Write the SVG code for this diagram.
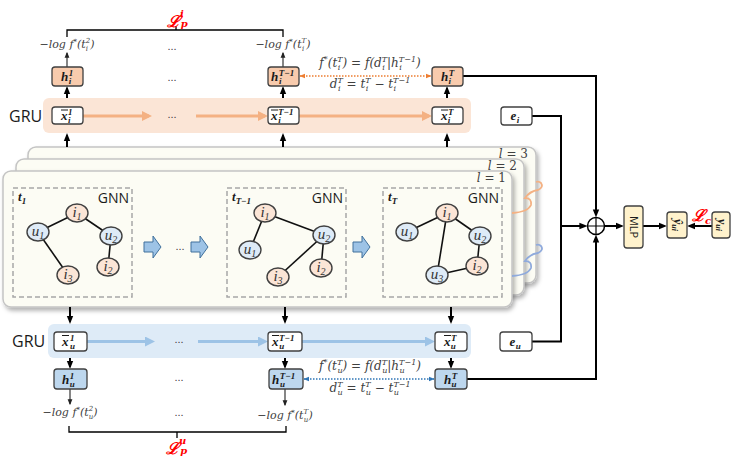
<svg xmlns="http://www.w3.org/2000/svg" width="731" height="467" viewBox="0 0 731 467">
<style>
.m{font-family:"DejaVu Serif","Liberation Serif",serif;font-style:italic;fill:#404040}
.bm{font-family:"Liberation Serif","DejaVu Serif",serif;font-style:italic;font-weight:bold;fill:#1a1a1a}
.sans{font-family:"Open Sans","Liberation Sans",sans-serif;fill:#1a1a1a}
.f11{font-size:11px}.f12{font-size:12px}.f13{font-size:13px}
.s7{font-size:7px}.s8{font-size:8px}.s9{font-size:9px}
.red{font-family:"DejaVu Serif",serif;font-style:italic;font-weight:bold;fill:#ff0000}
.box{fill:#fff;stroke:#404040;stroke-width:1.3}
.ho{fill:#f8cbad;stroke:#404040;stroke-width:1.3}
.hb{fill:#bdd7ee;stroke:#404040;stroke-width:1.3}
.yl{fill:#fff2cc;stroke:#404040;stroke-width:1.3}
.panel{fill:#fcfcf4;stroke:#c4c4c4;stroke-width:1.5}
.dash{fill:none;stroke:#a6a6a6;stroke-width:1.5;stroke-dasharray:5 3}
.ni{fill:#fbe5d6;stroke:#404040;stroke-width:1.4}
.nu{fill:#deebf7;stroke:#404040;stroke-width:1.4}
.nl{font-family:"Liberation Serif","DejaVu Serif",serif;font-style:italic;font-size:15px;fill:#333}
.edge{stroke:#111;stroke-width:1.6}
.blk{fill:#9dc3e6;stroke:#41719c;stroke-width:1}
.k2{fill:none;stroke:#000;stroke-width:2}
.k1{fill:none;stroke:#222;stroke-width:1.1}
.oa{stroke:#f4b183;stroke-width:3}
.ba{stroke:#9dc3e6;stroke-width:3}
.dots{font-family:"Liberation Sans",sans-serif;font-size:11px;fill:#404040}
.ov{stroke:#1a1a1a;stroke-width:1}
</style>
<defs>
<marker id="ak" viewBox="0 0 10 10" refX="7" refY="5" markerWidth="8" markerHeight="8" markerUnits="userSpaceOnUse" orient="auto"><path d="M0,1 L10,5 L0,9 z" fill="#000"/></marker>
<marker id="at" viewBox="0 0 10 10" refX="8" refY="5" markerWidth="6" markerHeight="6" markerUnits="userSpaceOnUse" orient="auto"><path d="M0,1 L10,5 L0,9 z" fill="#222"/></marker>
<marker id="ao" viewBox="0 0 10 10" refX="7" refY="5" markerWidth="10" markerHeight="10" markerUnits="userSpaceOnUse" orient="auto"><path d="M0,0 L10,5 L0,10 z" fill="#f4b183"/></marker>
<marker id="ab" viewBox="0 0 10 10" refX="7" refY="5" markerWidth="10" markerHeight="10" markerUnits="userSpaceOnUse" orient="auto"><path d="M0,0 L10,5 L0,10 z" fill="#9dc3e6"/></marker>
<marker id="do" viewBox="0 0 10 10" refX="9" refY="5" markerWidth="6" markerHeight="6" markerUnits="userSpaceOnUse" orient="auto-start-reverse"><path d="M0,1 L10,5 L0,9 z" fill="#ed7d31"/></marker>
<marker id="db" viewBox="0 0 10 10" refX="9" refY="5" markerWidth="6" markerHeight="6" markerUnits="userSpaceOnUse" orient="auto-start-reverse"><path d="M0,1 L10,5 L0,9 z" fill="#2e75b6"/></marker>
<filter id="sh" x="-5%" y="-10%" width="112%" height="125%"><feDropShadow dx="2" dy="3" stdDeviation="2" flood-color="#000" flood-opacity="0.3"/></filter>
</defs>

<!-- GRU bands -->
<rect x="43" y="98" width="428" height="35" rx="6" fill="#fbe5d6"/>
<rect x="48" y="324" width="423" height="34" rx="6" fill="#deebf7"/>
<text class="sans" x="9" y="122" font-size="16">GRU</text>
<text class="sans" x="12" y="347" font-size="16">GRU</text>

<!-- GNN panels -->
<g id="panels">
<rect class="panel" x="28" y="147" width="508" height="136" rx="8" filter="url(#sh)"/>
<rect class="panel" x="16" y="159" width="508" height="136" rx="8" filter="url(#sh)"/>
<rect class="panel" x="3" y="171" width="509" height="136" rx="8" filter="url(#sh)"/>
<text class="m f12" x="528" y="158" text-anchor="end">l<tspan font-style="normal"> = 3</tspan></text>
<text class="m f12" x="517" y="170" text-anchor="end">l<tspan font-style="normal"> = 2</tspan></text>
<text class="m f12" x="506" y="182" text-anchor="end">l<tspan font-style="normal"> = 1</tspan></text>
<path d="M512,213 Q528,212 531,205 Q532,198 525,198 Q530,191 538,190 Q544,187 541,183 Q539,181 536,182" fill="none" stroke="#f4b183" stroke-width="1.8"/>
<path d="M512,276 Q528,275 531,268 Q532,261 525,261 Q530,254 538,253 Q544,250 541,246 Q539,244 536,245" fill="none" stroke="#8faadc" stroke-width="1.8"/>
</g>

<!-- snapshot graphs -->
<g id="snap-t1">
<rect class="dash" x="13" y="188" width="119" height="109"/>
<text class="bm f13" x="18" y="201">t<tspan class="s9" dy="3">1</tspan></text>
<text class="sans" x="129" y="203" font-size="14" text-anchor="end">GNN</text>
<line class="edge" x1="38" y1="232" x2="77" y2="213"/>
<line class="edge" x1="77" y1="213" x2="111" y2="236"/>
<line class="edge" x1="38" y1="232" x2="68" y2="275"/>
<line class="edge" x1="111" y1="236" x2="108" y2="267"/>
<g id="g1-i1"><ellipse class="ni" cx="77" cy="213" rx="11" ry="9"/><text class="nl" x="77" y="217" text-anchor="middle">i<tspan font-size="10" dy="3">1</tspan></text></g>
<g id="g1-u1"><ellipse class="nu" cx="38" cy="232" rx="11" ry="9"/><text class="nl" x="38" y="236" text-anchor="middle">u<tspan font-size="10" dy="3">1</tspan></text></g>
<g id="g1-u2"><ellipse class="nu" cx="111" cy="236" rx="11" ry="9"/><text class="nl" x="111" y="240" text-anchor="middle">u<tspan font-size="10" dy="3">2</tspan></text></g>
<g id="g1-i2"><ellipse class="ni" cx="108" cy="267" rx="11" ry="9"/><text class="nl" x="108" y="271" text-anchor="middle">i<tspan font-size="10" dy="3">2</tspan></text></g>
<g id="g1-i3"><ellipse class="ni" cx="68" cy="275" rx="11" ry="9"/><text class="nl" x="68" y="279" text-anchor="middle">i<tspan font-size="10" dy="3">3</tspan></text></g>
</g>

<g id="snap-tT1">
<rect class="dash" x="227" y="188" width="119" height="109"/>
<text class="bm f13" x="232" y="201">t<tspan class="s9" dy="3">T−1</tspan></text>
<text class="sans" x="343" y="203" font-size="14" text-anchor="end">GNN</text>
<line class="edge" x1="265" y1="213" x2="250" y2="250"/>
<line class="edge" x1="265" y1="213" x2="324" y2="235"/>
<line class="edge" x1="324" y1="235" x2="278" y2="277"/>
<line class="edge" x1="324" y1="235" x2="321" y2="268"/>
<g id="g2-i1"><ellipse class="ni" cx="265" cy="213" rx="11" ry="9"/><text class="nl" x="265" y="217" text-anchor="middle">i<tspan font-size="10" dy="3">1</tspan></text></g>
<g id="g2-u1"><ellipse class="nu" cx="250" cy="250" rx="11" ry="9"/><text class="nl" x="250" y="254" text-anchor="middle">u<tspan font-size="10" dy="3">1</tspan></text></g>
<g id="g2-u2"><ellipse class="nu" cx="324" cy="235" rx="11" ry="9"/><text class="nl" x="324" y="239" text-anchor="middle">u<tspan font-size="10" dy="3">2</tspan></text></g>
<g id="g2-i3"><ellipse class="ni" cx="278" cy="277" rx="11" ry="9"/><text class="nl" x="278" y="281" text-anchor="middle">i<tspan font-size="10" dy="3">3</tspan></text></g>
<g id="g2-i2"><ellipse class="ni" cx="321" cy="268" rx="11" ry="9"/><text class="nl" x="321" y="272" text-anchor="middle">i<tspan font-size="10" dy="3">2</tspan></text></g>
</g>

<g id="snap-tT">
<rect class="dash" x="383" y="188" width="119" height="109"/>
<text class="bm f13" x="388" y="201">t<tspan class="s9" dy="3">T</tspan></text>
<text class="sans" x="499" y="203" font-size="14" text-anchor="end">GNN</text>
<line class="edge" x1="407" y1="232" x2="447" y2="213"/>
<line class="edge" x1="447" y1="213" x2="480" y2="236"/>
<line class="edge" x1="447" y1="213" x2="437" y2="275"/>
<line class="edge" x1="480" y1="236" x2="477" y2="266"/>
<line class="edge" x1="437" y1="275" x2="477" y2="266"/>
<g id="g3-i1"><ellipse class="ni" cx="447" cy="213" rx="11" ry="9"/><text class="nl" x="447" y="217" text-anchor="middle">i<tspan font-size="10" dy="3">1</tspan></text></g>
<g id="g3-u1"><ellipse class="nu" cx="407" cy="232" rx="11" ry="9"/><text class="nl" x="407" y="236" text-anchor="middle">u<tspan font-size="10" dy="3">1</tspan></text></g>
<g id="g3-u2"><ellipse class="nu" cx="480" cy="236" rx="11" ry="9"/><text class="nl" x="480" y="240" text-anchor="middle">u<tspan font-size="10" dy="3">2</tspan></text></g>
<g id="g3-i2"><ellipse class="ni" cx="477" cy="266" rx="11" ry="9"/><text class="nl" x="477" y="270" text-anchor="middle">i<tspan font-size="10" dy="3">2</tspan></text></g>
<g id="g3-u3"><ellipse class="nu" cx="437" cy="275" rx="11" ry="9"/><text class="nl" x="437" y="279" text-anchor="middle">u<tspan font-size="10" dy="3">3</tspan></text></g>
</g>

<!-- block arrows between snapshots -->
<g id="block-arrows">
<path class="blk" d="M144,242 H153 V236 L161,247 L153,258 V252 H144 Z"/>
<path class="blk" d="M191,242 H200 V236 L208,247 L200,258 V252 H191 Z"/>
<path class="blk" d="M353,242 H362 V236 L370,247 L362,258 V252 H353 Z"/>
<text class="dots" x="180" y="250" text-anchor="middle">...</text>
</g>

<!-- connectors -->
<g id="connectors">
<line class="oa" x1="83" y1="116" x2="149" y2="116" marker-end="url(#ao)"/>
<line class="oa" x1="196" y1="116" x2="265" y2="116" marker-end="url(#ao)"/>
<line class="oa" x1="299" y1="116" x2="429" y2="116" marker-end="url(#ao)"/>
<line class="ba" x1="87" y1="341.5" x2="152" y2="341.5" marker-end="url(#ab)"/>
<line class="ba" x1="198" y1="341.5" x2="265" y2="341.5" marker-end="url(#ab)"/>
<line class="ba" x1="302" y1="341.5" x2="432" y2="341.5" marker-end="url(#ab)"/>

<line class="k2" x1="67" y1="147" x2="67" y2="135.5" marker-end="url(#ak)"/>
<line class="k2" x1="283" y1="147" x2="283" y2="135.5" marker-end="url(#ak)"/>
<line class="k2" x1="447" y1="147" x2="447" y2="135.5" marker-end="url(#ak)"/>
<line class="k2" x1="67" y1="98" x2="67" y2="88.5" marker-end="url(#ak)"/>
<line class="k2" x1="283" y1="98" x2="283" y2="88.5" marker-end="url(#ak)"/>
<line class="k2" x1="447" y1="98" x2="447" y2="88.5" marker-end="url(#ak)"/>
<line class="k1" x1="67" y1="67" x2="67" y2="53" marker-end="url(#at)"/>
<line class="k1" x1="283" y1="67" x2="283" y2="53" marker-end="url(#at)"/>

<line class="k2" x1="70" y1="307" x2="70" y2="321.5" marker-end="url(#ak)"/>
<line class="k2" x1="285" y1="307" x2="285" y2="321.5" marker-end="url(#ak)"/>
<line class="k2" x1="451" y1="307" x2="451" y2="321.5" marker-end="url(#ak)"/>
<line class="k2" x1="70" y1="358" x2="70" y2="366.5" marker-end="url(#ak)"/>
<line class="k2" x1="285" y1="358" x2="285" y2="366.5" marker-end="url(#ak)"/>
<line class="k2" x1="451" y1="358" x2="451" y2="366.5" marker-end="url(#ak)"/>
<line class="k1" x1="70" y1="389" x2="70" y2="404" marker-end="url(#at)"/>
<line class="k1" x1="285" y1="389" x2="285" y2="405" marker-end="url(#at)"/>

<line x1="300" y1="76" x2="431" y2="76" stroke="#ed7d31" stroke-width="1.3" stroke-dasharray="1.5 1.5" marker-start="url(#do)" marker-end="url(#do)"/>
<line x1="304" y1="379" x2="434" y2="379" stroke="#2e75b6" stroke-width="1.3" stroke-dasharray="1.5 1.5" marker-start="url(#db)" marker-end="url(#db)"/>

<path class="k2" d="M463,76 H596 V215" marker-end="url(#ak)"/>
<path class="k2" d="M467,379 H596 V237" marker-end="url(#ak)"/>
<path class="k2" d="M532,116 H561 V341.5 H532"/>
<line class="k2" x1="561" y1="226" x2="585" y2="226" marker-end="url(#ak)"/>
<line class="k2" x1="604.5" y1="226" x2="621.5" y2="226" marker-end="url(#ak)"/>
<line class="k2" x1="643" y1="226" x2="664.5" y2="226" marker-end="url(#ak)"/>
<line class="k2" x1="712" y1="226" x2="689.5" y2="226" marker-end="url(#ak)"/>

<path d="M67,37 V30 H283 V37 M176,30 V26" fill="none" stroke="#000" stroke-width="1.3"/>
<path d="M69,426 V432 H286 V426 M177,432 V438" fill="none" stroke="#000" stroke-width="1.3"/>
</g>

<!-- loss labels -->
<text class="red" x="167" y="27" font-size="16">ℒ<tspan font-size="10" dy="-10">i</tspan><tspan font-size="10" dx="-3" dy="10">p</tspan></text>
<text class="red" x="166" y="454" font-size="16">ℒ<tspan font-size="10" dy="-10">u</tspan><tspan font-size="10" dx="-6" dy="10">p</tspan></text>
<text class="red" x="692" y="221" font-size="16">ℒ<tspan font-size="10" dy="3">c</tspan></text>

<!-- -log texts -->
<text class="m f11" x="67" y="48" text-anchor="middle">−log f<tspan class="s7" dy="-4">*</tspan><tspan dy="4">(t</tspan><tspan class="s7" dy="-5">2</tspan><tspan class="s7" dx="-4.5" dy="8">i</tspan><tspan dx="2.3" dy="-3">)</tspan></text>
<text class="m f11" x="283" y="48" text-anchor="middle">−log f<tspan class="s7" dy="-4">*</tspan><tspan dy="4">(t</tspan><tspan class="s7" dy="-5">T</tspan><tspan class="s7" dx="-4.3" dy="8">i</tspan><tspan dx="2.1" dy="-3">)</tspan></text>
<text class="m f11" x="70" y="416" text-anchor="middle">−log f<tspan class="s7" dy="-4">*</tspan><tspan dy="4">(t</tspan><tspan class="s7" dy="-5">2</tspan><tspan class="s7" dx="-4.5" dy="8">u</tspan><tspan dy="-3">)</tspan></text>
<text class="m f11" x="285" y="419" text-anchor="middle">−log f<tspan class="s7" dy="-4">*</tspan><tspan dy="4">(t</tspan><tspan class="s7" dy="-5">T</tspan><tspan class="s7" dx="-4.3" dy="8">u</tspan><tspan dy="-3">)</tspan></text>

<!-- dots -->
<text class="dots" x="172" y="50" text-anchor="middle">...</text>
<text class="dots" x="172" y="81" text-anchor="middle">...</text>
<text class="dots" x="172" y="118" text-anchor="middle">...</text>
<text class="dots" x="179" y="343" text-anchor="middle">...</text>
<text class="dots" x="179" y="381" text-anchor="middle">...</text>
<text class="dots" x="179" y="416" text-anchor="middle">...</text>

<!-- formulas -->
<text class="m f12" x="370" y="67" text-anchor="middle">f<tspan class="s8" dy="-5">*</tspan><tspan dy="5">(t</tspan><tspan class="s8" dy="-5">T</tspan><tspan class="s8" dx="-4.9" dy="8">i</tspan><tspan dx="2.3" dy="-3">)  = f(d</tspan><tspan class="s8" dy="-5">T</tspan><tspan class="s8" dx="-4.9" dy="8">i</tspan><tspan dx="2.3" dy="-3">|h</tspan><tspan class="s8" dy="-5">T−1</tspan><tspan class="s8" dx="-16.7" dy="8">i</tspan><tspan dx="14.1" dy="-3">)</tspan></text>
<text class="m f12" x="370" y="88" text-anchor="middle">d<tspan class="s8" dy="-5">T</tspan><tspan class="s8" dx="-4.9" dy="8">i</tspan><tspan dx="2.3" dy="-3"> = t</tspan><tspan class="s8" dy="-5">T</tspan><tspan class="s8" dx="-4.9" dy="8">i</tspan><tspan dx="2.3" dy="-3"> − t</tspan><tspan class="s8" dy="-5">T−1</tspan><tspan class="s8" dx="-16.7" dy="8">i</tspan></text>
<text class="m f12" x="370" y="370" text-anchor="middle">f<tspan class="s8" dy="-5">*</tspan><tspan dy="5">(t</tspan><tspan class="s8" dy="-5">T</tspan><tspan class="s8" dx="-4.9" dy="8">u</tspan><tspan dy="-3">)  = f(d</tspan><tspan class="s8" dy="-5">T</tspan><tspan class="s8" dx="-4.9" dy="8">u</tspan><tspan dy="-3">|h</tspan><tspan class="s8" dy="-5">T−1</tspan><tspan class="s8" dx="-16.7" dy="8">u</tspan><tspan dx="11.6" dy="-3">)</tspan></text>
<text class="m f12" x="370" y="392" text-anchor="middle">d<tspan class="s8" dy="-5">T</tspan><tspan class="s8" dx="-4.9" dy="8">u</tspan><tspan dy="-3"> = t</tspan><tspan class="s8" dy="-5">T</tspan><tspan class="s8" dx="-4.9" dy="8">u</tspan><tspan dy="-3"> − t</tspan><tspan class="s8" dy="-5">T−1</tspan><tspan class="s8" dx="-16.7" dy="8">u</tspan></text>

<!-- item side boxes -->
<g id="h-i-1"><rect class="ho" x="52" y="67" width="31" height="19" rx="3"/><text class="bm f13" x="61" y="81">h<tspan class="s9" dx="0.5" dy="-5">1</tspan><tspan class="s9" dx="-4.5" dy="8">i</tspan></text></g>
<g id="h-i-T1"><rect class="ho" x="268" y="67" width="31" height="19" rx="3"/><text class="bm f13" x="271" y="81">h<tspan class="s9" dx="0.5" dy="-5">T−1</tspan><tspan class="s9" dx="-15.1" dy="8">i</tspan></text></g>
<g id="h-i-T"><rect class="ho" x="432" y="67" width="31" height="19" rx="3"/><text class="bm f13" x="441" y="81">h<tspan class="s9" dx="0.5" dy="-5">T</tspan><tspan class="s9" dx="-5.5" dy="8">i</tspan></text></g>
<g id="x-i-1"><rect class="box" x="52" y="107" width="31" height="17" rx="3"/><line class="ov" x1="61" y1="110" x2="68" y2="110"/><text class="bm f13" x="61" y="120">x<tspan class="s9" dx="0.5" dy="-5">1</tspan><tspan class="s9" dx="-4.5" dy="8">i</tspan></text></g>
<g id="x-i-T1"><rect class="box" x="268" y="107" width="31" height="17" rx="3"/><line class="ov" x1="271" y1="110" x2="278" y2="110"/><text class="bm f13" x="271" y="120">x<tspan class="s9" dx="0.5" dy="-5">T−1</tspan><tspan class="s9" dx="-15.1" dy="8">i</tspan></text></g>
<g id="x-i-T"><rect class="box" x="432" y="107" width="31" height="17" rx="3"/><line class="ov" x1="441" y1="110" x2="448" y2="110"/><text class="bm f13" x="441" y="120">x<tspan class="s9" dx="0.5" dy="-5">T</tspan><tspan class="s9" dx="-5.5" dy="8">i</tspan></text></g>

<!-- user side boxes -->
<g id="x-u-1"><rect class="box" x="54" y="332" width="33" height="19" rx="3"/><line class="ov" x1="62" y1="335.5" x2="69" y2="335.5"/><text class="bm f13" x="62" y="346">x<tspan class="s9" dx="1.5" dy="-5">1</tspan><tspan class="s9" dx="-4.5" dy="8">u</tspan></text></g>
<g id="x-u-T1"><rect class="box" x="268" y="332" width="34" height="19" rx="3"/><line class="ov" x1="272" y1="335.5" x2="279" y2="335.5"/><text class="bm f13" x="272" y="346">x<tspan class="s9" dx="0.5" dy="-5">T−1</tspan><tspan class="s9" dx="-15.1" dy="8">u</tspan></text></g>
<g id="x-u-T"><rect class="box" x="435" y="332" width="32" height="19" rx="3"/><line class="ov" x1="444" y1="335.5" x2="451" y2="335.5"/><text class="bm f13" x="444" y="346">x<tspan class="s9" dx="0.5" dy="-5">T</tspan><tspan class="s9" dx="-5.5" dy="8">u</tspan></text></g>
<g id="h-u-1"><rect class="hb" x="54" y="369" width="33" height="20" rx="3"/><text class="bm f13" x="62" y="383.5">h<tspan class="s9" dx="0.5" dy="-5">1</tspan><tspan class="s9" dx="-4.5" dy="8">u</tspan></text></g>
<g id="h-u-T1"><rect class="hb" x="269" y="369" width="34" height="20" rx="3"/><text class="bm f13" x="272" y="383.5">h<tspan class="s9" dx="0.5" dy="-5">T−1</tspan><tspan class="s9" dx="-15.1" dy="8">u</tspan></text></g>
<g id="h-u-T"><rect class="hb" x="435" y="369" width="32" height="20" rx="3"/><text class="bm f13" x="444" y="383.5">h<tspan class="s9" dx="0.5" dy="-5">T</tspan><tspan class="s9" dx="-5.5" dy="8">u</tspan></text></g>

<!-- embeddings -->
<g id="e-i"><rect class="box" x="501" y="107" width="31" height="18" rx="3"/><text class="bm f13" x="510.5" y="120">e<tspan class="s9" dx="0.5" dy="3">i</tspan></text></g>
<g id="e-u"><rect class="box" x="500" y="332" width="32" height="19" rx="3"/><text class="bm f13" x="509.5" y="346">e<tspan class="s9" dx="0.5" dy="3">u</tspan></text></g>

<!-- fusion and prediction -->
<g id="concat"><circle cx="596" cy="226" r="8.5" fill="#fff" stroke="#000" stroke-width="1.5"/><path d="M587.5,226 H604.5 M596,217.5 V234.5" stroke="#000" stroke-width="1.2"/></g>
<g id="mlp"><rect class="yl" x="624" y="206" width="19" height="42" rx="3"/><text class="sans" font-size="11" transform="translate(633.5,227) rotate(90)" x="0" y="4" text-anchor="middle">MLP</text></g>
<g id="y-hat"><rect class="yl" x="667" y="212" width="20" height="26" rx="3"/><text class="bm" font-size="12" transform="translate(677,225) rotate(90)" x="0" y="3" text-anchor="middle">ŷ<tspan font-size="8" dy="2">ui</tspan></text></g>
<g id="y-true"><rect class="yl" x="712" y="212" width="18" height="26" rx="3"/><text class="bm" font-size="12" transform="translate(721,225) rotate(90)" x="0" y="3" text-anchor="middle">y<tspan font-size="8" dy="2">ui</tspan></text></g>
</svg>
